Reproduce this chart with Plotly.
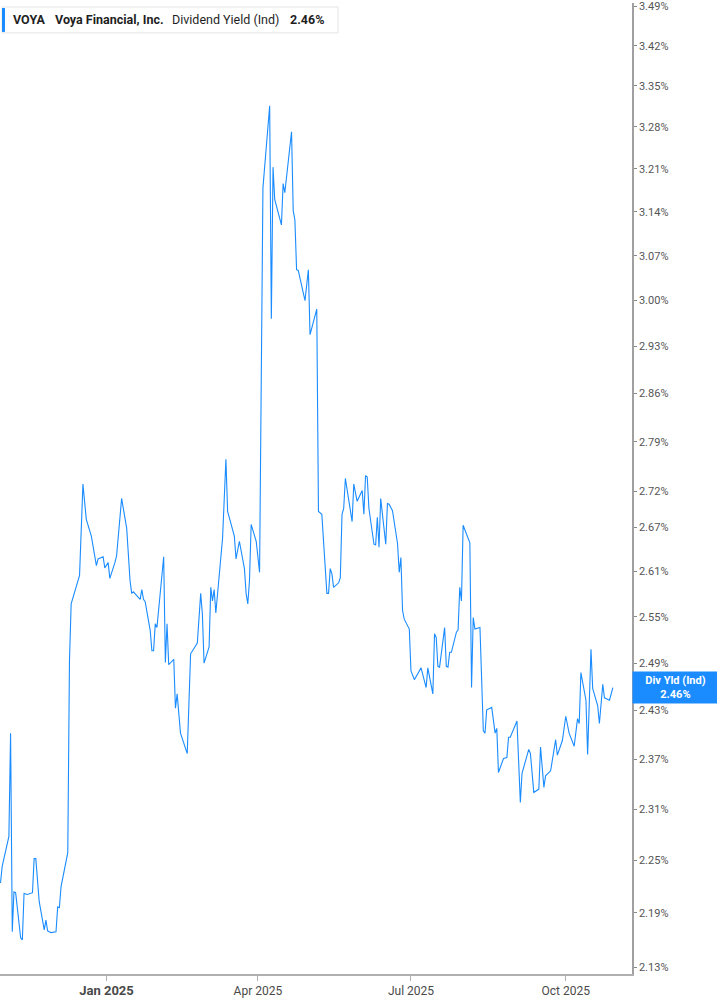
import math
import plotly.graph_objects as go

# ---- data ----
dates = [
    "2024-10-30", "2024-10-31", "2024-11-04", "2024-11-05", "2024-11-06", "2024-11-07", "2024-11-08",
    "2024-11-11", "2024-11-12", "2024-11-13", "2024-11-15", "2024-11-18", "2024-11-19", "2024-11-20",
    "2024-11-22", "2024-11-25", "2024-11-26", "2024-11-27", "2024-11-29", "2024-12-02", "2024-12-03",
    "2024-12-04", "2024-12-05", "2024-12-09", "2024-12-10", "2024-12-11", "2024-12-16", "2024-12-18",
    "2024-12-20", "2024-12-23", "2024-12-26", "2024-12-27", "2024-12-30", "2024-12-31", "2025-01-02",
    "2025-01-03", "2025-01-06", "2025-01-07", "2025-01-10", "2025-01-13", "2025-01-15", "2025-01-16",
    "2025-01-17", "2025-01-21", "2025-01-22", "2025-01-23", "2025-01-24", "2025-01-27", "2025-01-28",
    "2025-01-29", "2025-01-30", "2025-01-31", "2025-02-04", "2025-02-05", "2025-02-06", "2025-02-07",
    "2025-02-10", "2025-02-11", "2025-02-12", "2025-02-14", "2025-02-18", "2025-02-20", "2025-02-24",
    "2025-02-26", "2025-02-27", "2025-02-28", "2025-03-03", "2025-03-04", "2025-03-05", "2025-03-06",
    "2025-03-07", "2025-03-11", "2025-03-13", "2025-03-14", "2025-03-18", "2025-03-19", "2025-03-21",
    "2025-03-24", "2025-03-25", "2025-03-26", "2025-03-27", "2025-03-28", "2025-03-31", "2025-04-02",
    "2025-04-04", "2025-04-08", "2025-04-09", "2025-04-10", "2025-04-11", "2025-04-15", "2025-04-16",
    "2025-04-17", "2025-04-21", "2025-04-22", "2025-04-23", "2025-04-24", "2025-04-25", "2025-04-29",
    "2025-05-01", "2025-05-02", "2025-05-06", "2025-05-07", "2025-05-09", "2025-05-12", "2025-05-13",
    "2025-05-14", "2025-05-15", "2025-05-16", "2025-05-19", "2025-05-20", "2025-05-21", "2025-05-22",
    "2025-05-23", "2025-05-27", "2025-05-28", "2025-05-30", "2025-06-02", "2025-06-03", "2025-06-04",
    "2025-06-05", "2025-06-06", "2025-06-09", "2025-06-10", "2025-06-11", "2025-06-12", "2025-06-13",
    "2025-06-16", "2025-06-17", "2025-06-18", "2025-06-20", "2025-06-23", "2025-06-24", "2025-06-25",
    "2025-06-26", "2025-06-27", "2025-06-30", "2025-07-01", "2025-07-03", "2025-07-07", "2025-07-10",
    "2025-07-11", "2025-07-14", "2025-07-15", "2025-07-16", "2025-07-17", "2025-07-18", "2025-07-21",
    "2025-07-22", "2025-07-23", "2025-07-24", "2025-07-25", "2025-07-28", "2025-07-29", "2025-07-30",
    "2025-07-31", "2025-08-01", "2025-08-05", "2025-08-06", "2025-08-07", "2025-08-08", "2025-08-11",
    "2025-08-13", "2025-08-14", "2025-08-15", "2025-08-18", "2025-08-20", "2025-08-21", "2025-08-22",
    "2025-08-25", "2025-08-27", "2025-08-28", "2025-08-29", "2025-09-02", "2025-09-04", "2025-09-05",
    "2025-09-09", "2025-09-10", "2025-09-12", "2025-09-15", "2025-09-16", "2025-09-18", "2025-09-19",
    "2025-09-22", "2025-09-25", "2025-09-26", "2025-09-29", "2025-10-01", "2025-10-03", "2025-10-06",
    "2025-10-08", "2025-10-09", "2025-10-10", "2025-10-13", "2025-10-14", "2025-10-16", "2025-10-17",
    "2025-10-20", "2025-10-21", "2025-10-23", "2025-10-24", "2025-10-27", "2025-10-29",
]

div_yield = [
    2.224, 2.243, 2.278, 2.402, 2.169, 2.214, 2.213,
    2.162, 2.160, 2.212, 2.211, 2.213, 2.252, 2.252,
    2.203, 2.171, 2.182, 2.170, 2.168, 2.169, 2.197,
    2.196, 2.220, 2.259, 2.493, 2.567, 2.605, 2.730,
    2.681, 2.658, 2.618, 2.627, 2.630, 2.615, 2.622,
    2.601, 2.622, 2.631, 2.710, 2.669, 2.598, 2.581,
    2.583, 2.573, 2.586, 2.573, 2.570, 2.532, 2.506,
    2.506, 2.541, 2.536, 2.630, 2.491, 2.541, 2.488,
    2.495, 2.433, 2.451, 2.402, 2.377, 2.502, 2.516,
    2.581, 2.554, 2.490, 2.511, 2.589, 2.571, 2.586,
    2.555, 2.655, 2.765, 2.692, 2.658, 2.627, 2.651,
    2.614, 2.581, 2.567, 2.598, 2.674, 2.651, 2.609,
    3.179, 3.316, 2.972, 3.213, 3.160, 3.119, 3.186,
    3.171, 3.272, 3.142, 3.127, 3.048, 3.047, 3.000,
    3.048, 2.948, 2.987, 2.692, 2.688, 2.581, 2.581,
    2.614, 2.607, 2.589, 2.595, 2.602, 2.688, 2.696,
    2.738, 2.678, 2.730, 2.706, 2.721, 2.688, 2.742,
    2.740, 2.696, 2.647, 2.646, 2.684, 2.643, 2.710,
    2.647, 2.703, 2.702, 2.693, 2.648, 2.609, 2.629,
    2.558, 2.547, 2.534, 2.480, 2.469, 2.484, 2.459,
    2.484, 2.451, 2.528, 2.523, 2.486, 2.485, 2.536,
    2.486, 2.485, 2.504, 2.504, 2.530, 2.533, 2.589,
    2.571, 2.673, 2.649, 2.459, 2.549, 2.534, 2.536,
    2.405, 2.402, 2.431, 2.434, 2.402, 2.408, 2.354,
    2.371, 2.372, 2.397, 2.397, 2.417, 2.318, 2.353,
    2.382, 2.377, 2.330, 2.334, 2.385, 2.336, 2.350,
    2.356, 2.394, 2.375, 2.393, 2.423, 2.402, 2.386,
    2.420, 2.414, 2.478, 2.443, 2.376, 2.508, 2.458,
    2.436, 2.414, 2.463, 2.446, 2.443, 2.459,
]

y_tick_values = [3.49, 3.42, 3.35, 3.28, 3.21, 3.14, 3.07, 3.00, 2.93, 2.86, 2.79,
                 2.72, 2.67, 2.61, 2.55, 2.49, 2.43, 2.37, 2.31, 2.25, 2.19, 2.13]
y_tick_labels = [f"{v:.2f}%" for v in y_tick_values]

x_tick_values = ["2025-01-01", "2025-04-01", "2025-07-01", "2025-10-01"]
x_tick_labels = ["<span style='font-size:13px'><b>Jan 2025</b></span>",
                 "Apr 2025", "Jul 2025", "Oct 2025"]

ticker = "VOYA"
company = "Voya Financial, Inc."
metric = "Dividend Yield (Ind)"
last_label = "Div Yld (Ind)"
last_value = div_yield[-1]

# ---- styling ----
BLUE = "#1a8cff"
W, H = 717, 1005
ML, MR, MT, MB = 0, 85, 0, 31
PW, PH = W - ML - MR, H - MT - MB
FONT = "Roboto, Arial, sans-serif"


def px(x):
    return x / PW


def py(y):
    return 1 - y / PH


fig = go.Figure()
fig.add_trace(go.Scatter(
    x=dates, y=div_yield, mode="lines",
    line=dict(color=BLUE, width=1.1),
    hoverinfo="x+y", showlegend=False,
))

fig.update_layout(
    width=W, height=H,
    margin=dict(l=ML, r=MR, t=MT, b=MB, pad=0),
    paper_bgcolor="white", plot_bgcolor="white",
    font=dict(family=FONT, size=11, color="#555"),
    xaxis=dict(
        type="date",
        range=["2024-10-29 17:00", "2025-11-09 09:00"],
        tickvals=x_tick_values, ticktext=x_tick_labels,
        showgrid=False, zeroline=False,
        showline=True, linecolor="#b0b0b0", linewidth=1.5,
        ticks="outside", ticklen=5, tickcolor="#b0b0b0", tickwidth=1,
        tickfont=dict(family=FONT, size=12, color="#4a4a4a"),
        ticklabeloverflow="allow",
    ),
    yaxis=dict(
        type="log", side="right",
        range=[math.log10(2.1224), math.log10(3.4958)],
        tickvals=y_tick_values, ticktext=y_tick_labels,
        showgrid=False, zeroline=False,
        showline=True, linecolor="#a0a0a0", linewidth=1.5,
        ticks="outside", ticklen=3, tickcolor="#888", tickwidth=1,
        tickfont=dict(family=FONT, size=11, color="#555"),
        ticklabeloverflow="allow",
    ),
)

# legend box
fig.add_shape(type="rect", xref="paper", yref="paper",
              x0=px(2), x1=px(338), y0=py(30), y1=py(4),
              line=dict(color="#e4e4e4", width=1), fillcolor="white", layer="above")
fig.add_shape(type="rect", xref="paper", yref="paper",
              x0=px(2), x1=px(5), y0=py(29), y1=py(5),
              line=dict(width=0), fillcolor=BLUE, layer="above")

legend_parts = [
    (f"<b>{ticker}</b>", 12),
    (f"<b>{company}</b>", 54),
    (metric, 171),
    (f"<b>{last_value:.2f}%</b>", 289),
]
for txt, xpos in legend_parts:
    fig.add_annotation(xref="paper", yref="paper", x=px(xpos), y=py(17),
                       xanchor="left", yanchor="middle", text=txt, showarrow=False,
                       font=dict(family=FONT, size=12.5, color="#1f1f1f"), borderpad=0)

# last value box on the right axis
fig.add_annotation(xref="paper", yref="y", x=1, y=math.log10(last_value),
                   xanchor="left", yanchor="middle",
                   text=f"<b>{last_label}<br>{last_value:.2f}%</b>",
                   showarrow=False, align="center", width=81, bgcolor=BLUE,
                   borderpad=2, font=dict(family=FONT, size=11, color="white"))

fig.write_html("out.html", config={"displayModeBar": False},
               post_script="document.body.style.margin='0';")
